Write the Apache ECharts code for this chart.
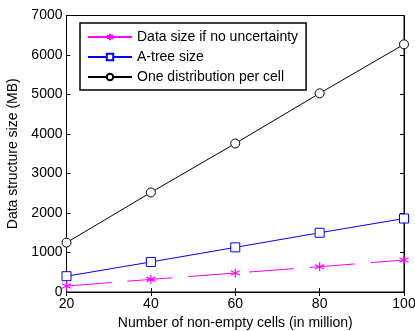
<!DOCTYPE html>
<html>
<head>
<meta charset="utf-8">
<script src="https://cdn.jsdelivr.net/npm/echarts@6/dist/echarts.min.js"></script>
<style>
html, body { margin: 0; padding: 0; background: #fff; }
#chart { width: 415px; height: 331px; }
</style>
</head>
<body>
<div id="chart"></div>
<script>
var cells = [20, 40, 60, 80, 100];                   // millions of non-empty cells
var noUncertainty = [150, 320, 480, 640, 810];        // data size if no uncertainty
var aTree = [400, 760, 1130, 1500, 1860];             // A-tree size
var onePerCell = [1250, 2520, 3760, 5030, 6270];      // one distribution per cell

var font = 'Liberation Sans, Arial, sans-serif';
var asterisk = 'path://M0,-10 L0,10 M-8.66,-5 L8.66,5 M-8.66,5 L8.66,-5';

function pairs(ys) {
    return cells.map(function (x, i) { return [x, ys[i]]; });
}

var chart = echarts.init(document.getElementById('chart'));

var option = {
    backgroundColor: '#fff',
    animation: false,
    grid: { left: 66.5, right: 11, top: 15.5, bottom: 39, show: true, borderColor: '#000', borderWidth: 1,
        outerBoundsMode: 'none', containLabel: false },
    legend: {
        left: 80, top: 23,
        orient: 'vertical',
        backgroundColor: '#fff',
        borderColor: '#000',
        borderWidth: 1.5,
        padding: [7, 8, 6, 7],
        itemGap: 6,
        itemWidth: 44,
        itemHeight: 8,
        lineStyle: { type: 'solid' },
        textStyle: { fontFamily: font, fontSize: 14, color: '#000' },
        data: ['Data size if no uncertainty', 'A-tree size', 'One distribution per cell']
    },
    xAxis: [{
        type: 'value', min: 20, max: 100, interval: 20,
        name: 'Number of non-empty cells (in million)',
        nameLocation: 'middle', nameGap: 23,
        nameTextStyle: { fontFamily: font, fontSize: 14, color: '#000' },
        axisLine: { show: true, lineStyle: { color: '#000' } },
        axisTick: { inside: true, length: 4, lineStyle: { color: '#000' } },
        axisLabel: { fontFamily: font, fontSize: 14, color: '#000', margin: 5 },
        splitLine: { show: false }
    }, {
        type: 'value', min: 20, max: 100, interval: 20, position: 'top',
        axisLine: { show: true, lineStyle: { color: '#000' } },
        axisTick: { inside: true, length: 4, lineStyle: { color: '#000' } },
        axisLabel: { show: false },
        splitLine: { show: false }
    }],
    yAxis: [{
        type: 'value', min: 0, max: 7000, interval: 1000,
        name: 'Data structure size (MB)',
        nameLocation: 'middle', nameGap: 43,
        nameTextStyle: { fontFamily: font, fontSize: 14, color: '#000' },
        axisLine: { show: true, lineStyle: { color: '#000' } },
        axisTick: { inside: true, length: 4, lineStyle: { color: '#000' } },
        axisLabel: { fontFamily: font, fontSize: 14, color: '#000', margin: 4,
            formatter: function (v) { return String(v); } },
        splitLine: { show: false }
    }, {
        type: 'value', min: 0, max: 7000, interval: 1000, position: 'right',
        axisLine: { show: true, lineStyle: { color: '#000' } },
        axisTick: { inside: true, length: 4, lineStyle: { color: '#000' } },
        axisLabel: { show: false },
        splitLine: { show: false }
    }],
    series: [{
        name: 'Data size if no uncertainty',
        type: 'line',
        data: pairs(noUncertainty),
        symbol: asterisk,
        symbolSize: 9,
        lineStyle: { color: '#ff00ff', width: 1, type: [45, 16] },
        itemStyle: { color: 'none', borderColor: '#ff00ff', borderWidth: 1.2 }
    }, {
        name: 'A-tree size',
        type: 'line',
        data: pairs(aTree),
        symbol: 'rect',
        symbolSize: 9,
        lineStyle: { color: '#0000ff', width: 1 },
        itemStyle: { color: '#fff', borderColor: '#0000ff', borderWidth: 1 }
    }, {
        name: 'One distribution per cell',
        type: 'line',
        data: pairs(onePerCell),
        symbol: 'circle',
        symbolSize: 9,
        lineStyle: { color: '#000', width: 1 },
        itemStyle: { color: '#fff', borderColor: '#000', borderWidth: 1 }
    }]
};
chart.setOption(option);
</script>
</body>
</html>
